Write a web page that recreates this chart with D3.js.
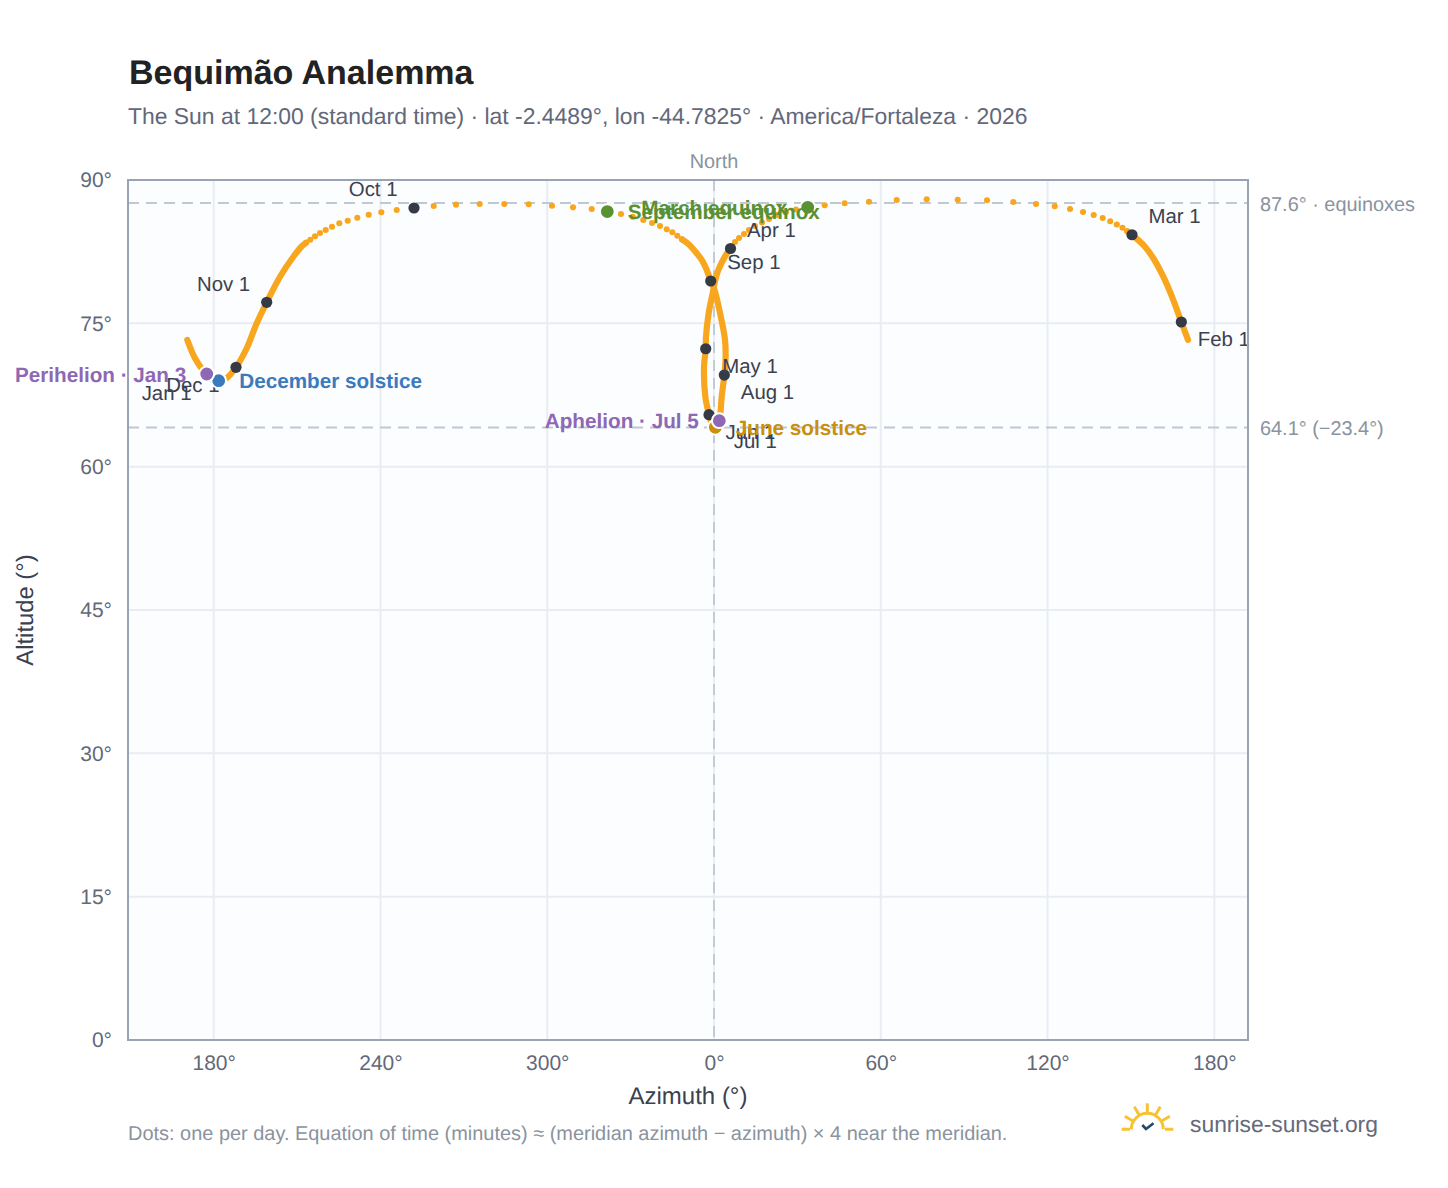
<!DOCTYPE html>
<html><head><meta charset="utf-8">
<script src="https://cdn.jsdelivr.net/npm/d3@7/dist/d3.min.js"></script>
<style>html,body{margin:0;background:#fff}svg{display:block;font-family:"Liberation Sans",Arial,sans-serif;text-rendering:geometricPrecision}</style>
</head><body><svg id="c" width="1448" height="1188"></svg>
<script>
// Values (azimuth unwrapped across 360°, altitude in degrees)
const azTicks=[180,240,300,360,420,480,540];
const altTicks=[0,15,30,45,60,75,90];

// Sections where daily dots merge into a solid band
const bandNovJanAz=[213.21,211.87,208.64,203.85,199.07,195.47,191.87,188.02,184.67,181.79,177.95,176.04,173.27,170.50];
const bandNovJanAlt=[83.44,83.12,81.97,79.88,77.20,75.00,72.39,70.40,69.28,69.00,69.49,70.12,71.34,73.26];
const bandFebAz=[530.54,528.13,525.25,521.65,518.06,515.07,510.39,508.70];
const bandFebAlt=[73.26,75.14,77.44,79.88,81.81,83.02,84.27,84.63];
const bandAprSepAz=[365.94,364.50,362.88,361.55,360.36,359.53,358.09,357.12,357.01,356.40,356.87,358.20,359.17,360.47,361.15,361.91,362.77,363.71,364.14,363.96,362.16,360.18,358.81,357.12,355.57,353.78,351.98,350.18,348.49];
const bandAprSepAlt=[82.83,82.26,81.42,80.58,79.43,78.17,76.08,73.60,72.34,70.46,67.32,65.44,64.54,64.12,64.46,64.81,67.32,69.59,71.16,73.26,76.08,78.49,79.43,80.76,81.63,82.33,82.96,83.44,83.79];

// Separate daily dots
const dotsMarAprAz=[508.70,506.97,504.92,502.55,499.85,496.61,492.76,488.09,482.58,475.85,467.69,458.22,447.68,436.53,425.73,415.77,407.02,399.83,393.71,389.50,385.90,382.67,379.79,377.27,374.75,372.59,370.79,369.00,367.56];
const dotsMarAprAlt=[84.63,85.01,85.34,85.68,86.02,86.34,86.65,86.96,87.25,87.49,87.70,87.88,87.94,87.98,87.91,87.73,87.56,87.35,87.14,86.91,86.65,86.34,85.92,85.55,85.19,84.77,84.35,83.93,83.51];
const dotsSepNovAz=[348.49,346.80,345.00,342.98,340.57,337.69,334.56,330.75,326.54,321.61,316.00,309.27,301.71,293.33,284.55,275.70,267.17,259.15,252.06,245.84,240.30,235.76,231.66,228.21,225.19,222.56,220.29,218.24,216.44,214.75,213.21];
const dotsSepNovAlt=[83.79,84.17,84.53,84.84,85.19,85.50,85.81,86.16,86.44,86.70,86.96,87.14,87.31,87.46,87.49,87.49,87.42,87.28,87.07,86.86,86.62,86.37,86.05,85.74,85.47,85.11,84.77,84.45,84.11,83.75,83.44];

// First of each month
const monthLabels=["Jan 1","Feb 1","Mar 1","Apr 1","May 1","Jun 1","Jul 1","Aug 1","Sep 1","Oct 1","Nov 1","Dec 1"];
const monthAz=[177.95,528.13,510.39,365.94,357.01,358.20,361.15,363.71,358.81,252.06,199.07,188.02];
const monthAlt=[69.49,75.14,84.27,82.83,72.34,65.44,64.46,69.59,79.43,87.07,77.20,70.40];
const monthSideX=[-1,1,1,1,1,1,1,1,1,-1,-1,-1];
const monthSideY=[1,1,-1,-1,1,1,1,1,-1,-1,-1,1];

// Events
const eventLabels=["March equinox","June solstice","September equinox","December solstice","Perihelion · Jan 3","Aphelion · Jul 5"];
const eventAz=[393.71,360.47,321.61,181.79,177.48,361.91];
const eventAlt=[87.14,64.12,86.70,69.00,69.70,64.81];
const eventColors=["#5a9133","#c98f0d","#5a9133","#3a7abd","#8e68b4","#8e68b4"];
const eventSide=[-1,1,1,1,-1,-1];

const refAlt=[87.6,64.1];
const refLabels=["87.6° · equinoxes","64.1° (−23.4°)"];

const svg=d3.select("#c");
const L=128,R=1248,T=180,B=1040;
const x=d3.scaleLinear().domain([149.16,552.12]).range([L,R]);
const y=d3.scaleLinear().domain([0,90]).range([B,T]);
const FG="#626879",MUTED="#8a939e",ORANGE="#f9a61f",DARK="#343a46";
const zip=(a,b)=>a.map((v,i)=>[v,b[i]]);

svg.append("rect").attr("x",L).attr("y",T).attr("width",R-L).attr("height",B-T).attr("fill","#fbfdff");

// grid
svg.append("g").selectAll("line").data(azTicks).join("line")
 .attr("x1",d=>x(d)).attr("x2",d=>x(d)).attr("y1",T).attr("y2",B).attr("stroke","#e9edf3").attr("stroke-width",2);
svg.append("g").selectAll("line").data(altTicks).join("line")
 .attr("y1",d=>y(d)).attr("y2",d=>y(d)).attr("x1",L).attr("x2",R).attr("stroke","#e9edf3").attr("stroke-width",2);

// reference lines
svg.append("g").selectAll("line").data(refAlt).join("line")
 .attr("x1",L).attr("x2",R).attr("y1",d=>y(d)).attr("y2",d=>y(d))
 .attr("stroke","#bfc9d3").attr("stroke-width",2).attr("stroke-dasharray","11 7");
svg.append("line").attr("x1",x(360)).attr("x2",x(360)).attr("y1",T).attr("y2",B)
 .attr("stroke","#b7c3ce").attr("stroke-width",1.6).attr("stroke-dasharray","11 7");

// axes
const ax=svg.append("g").attr("transform",`translate(0,${B})`)
 .call(d3.axisBottom(x).tickValues(azTicks).tickSize(0).tickPadding(15).tickFormat(d=>(d%360)+"°"));
ax.select(".domain").remove();
ax.selectAll("text").attr("font-size",21).attr("fill",FG).attr("font-family","Liberation Sans");
const ay=svg.append("g").attr("transform",`translate(${L},0)`)
 .call(d3.axisLeft(y).tickValues(altTicks).tickSize(0).tickPadding(16).tickFormat(d=>d+"°"));
ay.select(".domain").remove();
ay.selectAll("text").attr("font-size",21).attr("fill",FG).attr("font-family","Liberation Sans");

// track
const line=d3.line().x(d=>x(d[0])).y(d=>y(d[1])).curve(d3.curveCatmullRom.alpha(.5));
[zip(bandNovJanAz,bandNovJanAlt),zip(bandFebAz,bandFebAlt),zip(bandAprSepAz,bandAprSepAlt)].forEach(s=>{
 svg.append("path").attr("d",line(s)).attr("fill","none").attr("stroke",ORANGE)
  .attr("stroke-width",6.2).attr("stroke-linecap","round").attr("stroke-linejoin","round");
});
svg.append("g").selectAll("circle").data(zip(dotsMarAprAz,dotsMarAprAlt).concat(zip(dotsSepNovAz,dotsSepNovAlt))).join("circle")
 .attr("cx",d=>x(d[0])).attr("cy",d=>y(d[1])).attr("r",3.05).attr("fill",ORANGE);

// perihelion/aphelion labels underneath month labels
const evLabel=i=>svg.append("text").text(eventLabels[i])
 .attr("x",x(eventAz[i])+eventSide[i]*20.5).attr("y",y(eventAlt[i])+0.5)
 .attr("dy","0.35em").attr("text-anchor",eventSide[i]>0?"start":"end")
 .attr("font-size",20.7).attr("font-weight",700).attr("fill",eventColors[i]);
[4,5].forEach(evLabel);

// months
svg.append("g").selectAll("circle").data(monthLabels).join("circle")
 .attr("cx",(d,i)=>x(monthAz[i])).attr("cy",(d,i)=>y(monthAlt[i])).attr("r",5.6).attr("fill",DARK);
svg.append("g").selectAll("text").data(monthLabels).join("text").text(d=>d)
 .attr("x",(d,i)=>x(monthAz[i])+monthSideX[i]*16.5)
 .attr("y",(d,i)=>y(monthAlt[i])+monthSideY[i]*18-0.7)
 .attr("dy","0.35em").attr("text-anchor",(d,i)=>monthSideX[i]>0?"start":"end")
 .attr("font-size",20.4).attr("fill","#3b4150");

// event markers
[0,2,1,3,4,5].forEach(i=>{
 svg.append("circle").attr("cx",x(eventAz[i])).attr("cy",y(eventAlt[i])).attr("r",7.4)
  .attr("fill",eventColors[i]).attr("stroke","#fff").attr("stroke-width",2);
});
[2,0,1,3].forEach(evLabel);

// frame
svg.append("rect").attr("x",L).attr("y",T).attr("width",R-L).attr("height",B-T)
 .attr("fill","none").attr("stroke","#98a4b3").attr("stroke-width",2);

// annotations
refAlt.forEach((v,i)=>svg.append("text").text(refLabels[i]).attr("x",1260).attr("y",y(v)+1).attr("dy","0.35em")
 .attr("font-size",19.9).attr("fill",MUTED));
svg.append("text").text("North").attr("x",x(360)).attr("y",168).attr("text-anchor","middle").attr("font-size",19.9).attr("fill",MUTED);

// titles
svg.append("text").text("Bequimão Analemma").attr("x",129).attr("y",84).attr("font-size",34).attr("font-weight",700).attr("fill","#222");
svg.append("text").text("The Sun at 12:00 (standard time) · lat -2.4489°, lon -44.7825° · America/Fortaleza · 2026")
 .attr("x",128).attr("y",124).attr("font-size",22.92).attr("fill",FG);
svg.append("text").text("Azimuth (°)").attr("x",688).attr("y",1104).attr("text-anchor","middle").attr("font-size",24).attr("fill","#3b4150");
svg.append("text").text("Altitude (°)").attr("transform","translate(33,610) rotate(-90)").attr("text-anchor","middle").attr("font-size",23.8).attr("fill","#3b4150");
svg.append("text").text("Dots: one per day. Equation of time (minutes) ≈ (meridian azimuth − azimuth) × 4 near the meridian.")
 .attr("x",128).attr("y",1140).attr("font-size",19.95).attr("fill",MUTED);

// logo
const logo=svg.append("g").attr("fill","none").attr("stroke-linecap","butt");
const sun="#f8c331";
logo.append("path").attr("d","M1121.7 1129.3H1130 M1165 1129.3H1173.3 M1131.3 1129.3A16 16 0 0 1 1163.3 1129.3").attr("stroke",sun).attr("stroke-width",3);
[-60,-30,0,30,60].forEach(a=>{
 const r=a*Math.PI/180,c=1147.3,d=1129.3,r1=17,r2=26;
 logo.append("line").attr("x1",c+r1*Math.sin(r)).attr("y1",d-r1*Math.cos(r)).attr("x2",c+r2*Math.sin(r)).attr("y2",d-r2*Math.cos(r)).attr("stroke",sun).attr("stroke-width",3);
});
logo.append("path").attr("d","M1142.3 1125L1146 1129L1153.5 1123.2").attr("stroke","#234a6b").attr("stroke-width",2.6);
svg.append("text").text("sunrise-sunset.org").attr("x",1190).attr("y",1132).attr("font-size",22.85).attr("fill","#666a7a");
</script></body></html>
